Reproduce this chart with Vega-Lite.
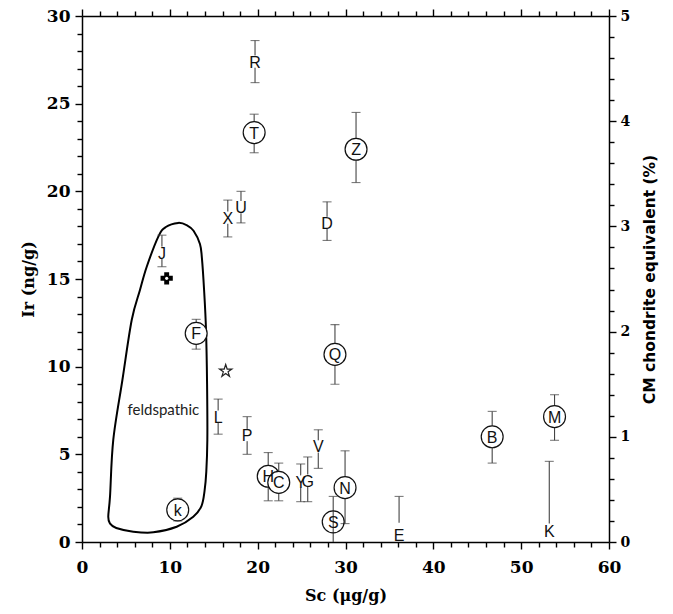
{
  "$schema": "https://vega.github.io/schema/vega-lite/v6.json",
  "autosize": "none",
  "width": 527,
  "height": 526,
  "padding": {"left": 82, "top": 16, "right": 64, "bottom": 72},
  "background": "white",
  "config": {
    "view": {"stroke": null},
    "axis": {"domainColor": "black", "domainWidth": 1.5, "ticks": true, "tickColor": "black", "tickWidth": 1.4, "grid": false, "labelColor": "black", "titleColor": "black"}
  },
  "datasets": {
    "pts": [
      {"label": "R", "sc": 19.7, "ir": 27.4, "lo": 26.2, "hi": 28.6, "circ": false, "lowcap": true},
      {"label": "T", "sc": 19.6, "ir": 23.35, "lo": 22.2, "hi": 24.4, "circ": true, "lowcap": true},
      {"label": "U", "sc": 18.1, "ir": 19.1, "lo": 18.2, "hi": 20.0, "circ": false, "lowcap": true},
      {"label": "X", "sc": 16.6, "ir": 18.5, "lo": 17.4, "hi": 19.5, "circ": false, "lowcap": true},
      {"label": "D", "sc": 27.9, "ir": 18.2, "lo": 17.2, "hi": 19.4, "circ": false, "lowcap": true},
      {"label": "J", "sc": 9.1, "ir": 16.5, "lo": 15.7, "hi": 17.5, "circ": false, "lowcap": true},
      {"label": "Z", "sc": 31.2, "ir": 22.4, "lo": 20.5, "hi": 24.5, "circ": true, "lowcap": true},
      {"label": "F", "sc": 13.0, "ir": 11.9, "lo": 11.0, "hi": 12.7, "circ": true, "lowcap": true},
      {"label": "L", "sc": 15.5, "ir": 7.15, "lo": 6.15, "hi": 8.15, "circ": false, "lowcap": true},
      {"label": "P", "sc": 18.8, "ir": 6.1, "lo": 5.0, "hi": 7.15, "circ": false, "lowcap": true},
      {"label": "H", "sc": 21.2, "ir": 3.75, "lo": 2.35, "hi": 5.1, "circ": true, "lowcap": true},
      {"label": "C", "sc": 22.4, "ir": 3.4, "lo": 2.35, "hi": 4.5, "circ": true, "lowcap": true},
      {"label": "Y", "sc": 24.9, "ir": 3.45, "lo": 2.3, "hi": 4.45, "circ": false, "lowcap": true},
      {"label": "G", "sc": 25.7, "ir": 3.5, "lo": 2.3, "hi": 4.85, "circ": false, "lowcap": true},
      {"label": "V", "sc": 26.9, "ir": 5.45, "lo": 4.2, "hi": 6.4, "circ": false, "lowcap": true},
      {"label": "k", "sc": 10.9, "ir": 1.83, "lo": 1.2, "hi": 2.5, "circ": true, "lowcap": true},
      {"label": "Q", "sc": 28.8, "ir": 10.7, "lo": 9.0, "hi": 12.4, "circ": true, "lowcap": true},
      {"label": "S", "sc": 28.6, "ir": 1.15, "lo": 0, "hi": 2.6, "circ": true, "lowcap": false},
      {"label": "N", "sc": 29.95, "ir": 3.1, "lo": 1.05, "hi": 5.2, "circ": true, "lowcap": true},
      {"label": "B", "sc": 46.7, "ir": 6.0, "lo": 4.5, "hi": 7.45, "circ": true, "lowcap": true},
      {"label": "M", "sc": 53.8, "ir": 7.15, "lo": 5.8, "hi": 8.4, "circ": true, "lowcap": true},
      {"label": "E", "sc": 36.1, "ir": 0.42, "lo": 1.1, "hi": 2.6, "circ": false, "lowcap": false},
      {"label": "K", "sc": 53.2, "ir": 0.6, "lo": 1.05, "hi": 4.6, "circ": false, "lowcap": false}
    ],
    "outline": [
      {"i": 1, "sc": 2.99, "ir": 1.44},
      {"i": 2, "sc": 3.19, "ir": 2.6},
      {"i": 3, "sc": 3.56, "ir": 5.82},
      {"i": 4, "sc": 4.6, "ir": 9.24},
      {"i": 5, "sc": 5.66, "ir": 12.66},
      {"i": 6, "sc": 6.6, "ir": 14.37},
      {"i": 7, "sc": 7.37, "ir": 15.7},
      {"i": 8, "sc": 8.69, "ir": 17.42},
      {"i": 9, "sc": 9.5, "ir": 17.95},
      {"i": 10, "sc": 10.96, "ir": 18.2},
      {"i": 11, "sc": 12.0, "ir": 18.05},
      {"i": 12, "sc": 12.7, "ir": 17.75},
      {"i": 13, "sc": 13.43, "ir": 17.0},
      {"i": 14, "sc": 13.65, "ir": 16.2},
      {"i": 15, "sc": 13.9, "ir": 14.37},
      {"i": 16, "sc": 14.12, "ir": 12.09},
      {"i": 17, "sc": 14.24, "ir": 9.0},
      {"i": 18, "sc": 14.27, "ir": 5.82},
      {"i": 19, "sc": 14.15, "ir": 4.0},
      {"i": 20, "sc": 13.95, "ir": 2.9},
      {"i": 21, "sc": 13.6, "ir": 2.05},
      {"i": 22, "sc": 12.67, "ir": 1.44},
      {"i": 23, "sc": 10.78, "ir": 0.87},
      {"i": 24, "sc": 8.12, "ir": 0.55},
      {"i": 25, "sc": 5.84, "ir": 0.59},
      {"i": 26, "sc": 3.9, "ir": 0.8},
      {"i": 27, "sc": 3.2, "ir": 1.05}
    ],
    "star": [{"sc": 16.36, "ir": 9.75}],
    "cross": [{"sc": 9.64, "ir": 15.04}],
    "region": [{"sc": 9.26, "ir": 7.53, "t": "feldspathic"}]
  },
  "resolve": {"axis": {"x": "independent", "y": "independent"}},
  "layer": [
    {
      "data": {"name": "outline"},
      "mark": {"type": "line", "interpolate": "cardinal-closed", "stroke": "black", "strokeWidth": 2},
      "encoding": {
        "x": {
          "field": "sc", "type": "quantitative",
          "scale": {"domain": [0, 60], "nice": false, "zero": false},
          "axis": {
            "orient": "bottom",
            "values": [0,2,4,6,8,10,12,14,16,18,20,22,24,26,28,30,32,34,36,38,40,42,44,46,48,50,52,54,56,58,60],
            "labelExpr": "datum.value % 10 === 0 ? datum.label : ''",
            "tickSize": {"condition": {"test": "datum.value % 10 === 0", "value": 7}, "value": 5},
            "labelFont": "DejaVu Serif", "labelFontWeight": "bold", "labelFontSize": 17, "labelPadding": 10,
            "labelFlush": false,
            "title": "Sc  (μg/g)", "titleFont": "DejaVu Serif", "titleFontWeight": "bold", "titleFontSize": 16, "titlePadding": 12
          }
        },
        "y": {
          "field": "ir", "type": "quantitative",
          "scale": {"domain": [0, 30], "nice": false, "zero": false},
          "axis": {
            "orient": "left",
            "values": [0,1,2,3,4,5,6,7,8,9,10,11,12,13,14,15,16,17,18,19,20,21,22,23,24,25,26,27,28,29,30],
            "labelExpr": "datum.value % 5 === 0 ? datum.label : ''",
            "tickSize": {"condition": {"test": "datum.value % 5 === 0", "value": 7}, "value": 5},
            "labelFont": "DejaVu Serif", "labelFontWeight": "bold", "labelFontSize": 17, "labelPadding": 5,
            "labelFlush": false,
            "title": "Ir  (ng/g)", "titleFont": "DejaVu Serif", "titleFontWeight": "bold", "titleFontSize": 16, "titlePadding": 10
          }
        },
        "order": {"field": "i", "type": "quantitative"}
      }
    },
    {
      "data": {"name": "pts"},
      "mark": {"type": "rule", "color": "#444", "strokeWidth": 1.1},
      "encoding": {
        "x": {
          "field": "sc", "type": "quantitative",
          "axis": {
            "orient": "top",
            "values": [0,2,4,6,8,10,12,14,16,18,20,22,24,26,28,30,32,34,36,38,40,42,44,46,48,50,52,54,56,58,60],
            "labels": false, "title": null,
            "tickSize": {"condition": {"test": "datum.value % 10 === 0", "value": 7}, "value": 5}
          }
        },
        "y": {
          "field": "lo", "type": "quantitative",
          "axis": {
            "orient": "right",
            "values": [0,1.2,2.4,3.6,4.8,6,7.2,8.4,9.6,10.8,12,13.2,14.4,15.6,16.8,18,19.2,20.4,21.6,22.8,24,25.2,26.4,27.6,28.8,30],
            "labelExpr": "datum.value % 6 === 0 ? format(datum.value / 6, 'd') : ''",
            "tickSize": {"condition": {"test": "datum.value % 6 === 0", "value": 7}, "value": 5},
            "labelFont": "DejaVu Serif", "labelFontWeight": "bold", "labelFontSize": 14, "labelPadding": 4,
            "labelFlush": false,
            "title": "CM chondrite equivalent  (%)", "titleAngle": 270, "titleFont": "DejaVu Sans", "titleFontWeight": "bold", "titleFontSize": 15.5, "titlePadding": 20, "titleBaseline": "middle"
          }
        },
        "y2": {"field": "hi"}
      }
    },
    {
      "data": {"name": "pts"},
      "mark": {"type": "tick", "orient": "horizontal", "size": 9, "thickness": 1.1, "color": "#444"},
      "encoding": {
        "x": {"field": "sc", "type": "quantitative", "axis": null},
        "y": {"field": "hi", "type": "quantitative", "axis": null}
      }
    },
    {
      "data": {"name": "pts"},
      "transform": [{"filter": "datum.lowcap"}],
      "mark": {"type": "tick", "orient": "horizontal", "size": 9, "thickness": 1.1, "color": "#444"},
      "encoding": {
        "x": {"field": "sc", "type": "quantitative", "axis": null},
        "y": {"field": "lo", "type": "quantitative", "axis": null}
      }
    },
    {
      "data": {"name": "pts"},
      "transform": [{"filter": "!datum.circ"}],
      "mark": {"type": "point", "shape": "square", "size": 150, "filled": true, "color": "white", "opacity": 1},
      "encoding": {
        "x": {"field": "sc", "type": "quantitative", "axis": null},
        "y": {"field": "ir", "type": "quantitative", "axis": null}
      }
    },
    {
      "data": {"name": "pts"},
      "transform": [{"filter": "datum.circ"}],
      "mark": {"type": "point", "shape": "circle", "size": 480, "filled": false, "fill": "white", "stroke": "#111", "strokeWidth": 1.2, "opacity": 1},
      "encoding": {
        "x": {"field": "sc", "type": "quantitative", "axis": null},
        "y": {"field": "ir", "type": "quantitative", "axis": null},
        "fillOpacity": {"condition": {"test": "datum.label === 'S'", "value": 0}, "value": 1}
      }
    },
    {
      "data": {"name": "pts"},
      "mark": {"type": "text", "font": "Liberation Sans", "fontSize": 16, "color": "#111", "align": "center", "baseline": "middle", "dy": 1},
      "encoding": {
        "x": {"field": "sc", "type": "quantitative", "axis": null},
        "y": {"field": "ir", "type": "quantitative", "axis": null},
        "text": {"field": "label"}
      }
    },
    {
      "data": {"name": "star"},
      "mark": {"type": "point", "shape": "M0,-1L0.2245,-0.309L0.951,-0.309L0.363,0.118L0.588,0.809L0,0.382L-0.588,0.809L-0.363,0.118L-0.951,-0.309L-0.2245,-0.309Z", "size": 170, "filled": false, "stroke": "#222", "strokeWidth": 1.2, "opacity": 1},
      "encoding": {
        "x": {"field": "sc", "type": "quantitative", "axis": null},
        "y": {"field": "ir", "type": "quantitative", "axis": null}
      }
    },
    {
      "data": {"name": "cross"},
      "mark": {"type": "point", "shape": "cross", "size": 150, "filled": true, "color": "black", "opacity": 1},
      "encoding": {
        "x": {"field": "sc", "type": "quantitative", "axis": null},
        "y": {"field": "ir", "type": "quantitative", "axis": null}
      }
    },
    {
      "data": {"name": "cross"},
      "mark": {"type": "point", "shape": "circle", "size": 10, "filled": true, "color": "white", "opacity": 1},
      "encoding": {
        "x": {"field": "sc", "type": "quantitative", "axis": null},
        "y": {"field": "ir", "type": "quantitative", "axis": null}
      }
    },
    {
      "data": {"name": "region"},
      "mark": {"type": "text", "font": "Lato", "fontSize": 15, "color": "#222", "align": "center", "baseline": "middle"},
      "encoding": {
        "x": {"field": "sc", "type": "quantitative", "axis": null},
        "y": {"field": "ir", "type": "quantitative", "axis": null},
        "text": {"field": "t"}
      }
    }
  ]
}
